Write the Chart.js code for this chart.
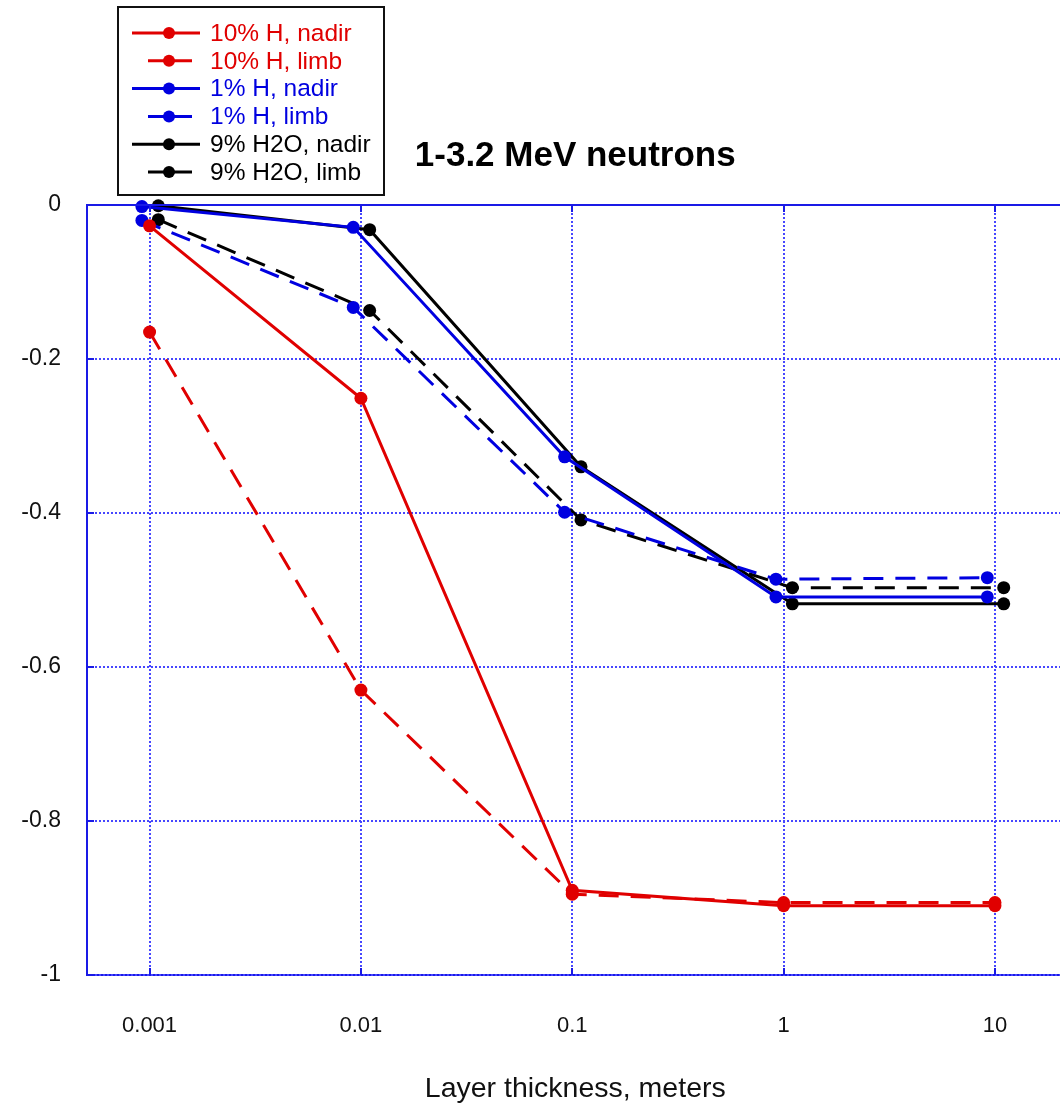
<!DOCTYPE html>
<html>
<head>
<meta charset="utf-8">
<title>1-3.2 MeV neutrons</title>
<script src="https://cdn.jsdelivr.net/npm/chart.js@4/dist/chart.umd.min.js"></script>
<style>
  html, body { margin: 0; padding: 0; background: #fff; overflow: hidden; }
  #wrap { width: 1060px; height: 1106px; overflow: hidden; }
  canvas { display: block; }
</style>
</head>
<body>
<div id="wrap"><canvas id="chart" width="1070" height="1106"></canvas></div>
<script>
// Layer thickness (m); the three families are nudged apart on the log axis
const xRed = [0.001, 0.01, 0.1, 1, 10];
const xBlue = [0.00092, 0.0092, 0.092, 0.92, 9.2];
const xBlack = [0.0011, 0.011, 0.11, 1.1, 11];

// Values
const redNadir = [-0.027, -0.251, -0.890, -0.910, -0.910];
const redLimb = [-0.165, -0.630, -0.895, -0.906, -0.906];
const blueNadir = [-0.002, -0.029, -0.327, -0.509, -0.509];
const blueLimb = [-0.020, -0.133, -0.399, -0.486, -0.484];
const blackNadir = [-0.001, -0.032, -0.340, -0.518, -0.518];
const blackLimb = [-0.019, -0.137, -0.409, -0.497, -0.497];

const seriesLabels = ['10% H, nadir', '10% H, limb', '1% H, nadir', '1% H, limb', '9% H2O, nadir', '9% H2O, limb'];

const xTickValues = [0.001, 0.01, 0.1, 1, 10];
const xTickLabels = ['0.001', '0.01', '0.1', '1', '10'];
const yTickLabels = ['-1', '-0.8', '-0.6', '-0.4', '-0.2', '0'];

const TITLE = '1-3.2 MeV neutrons';
const X_TITLE = 'Layer thickness, meters';

const RED = '#e00000';
const BLUE = '#0000e0';
const BLACK = '#000000';
const AXIS_BLUE = '#1a1ae6';
const GRID_BLUE = '#4646ff';
const DASH = [20, 12];
const FONT = '"Liberation Sans", Arial, Helvetica, sans-serif';

const toPoints = (xs, ys) => xs.map((x, i) => ({ x, y: ys[i] }));

const makeSet = (label, xs, ys, color, dashed) => ({
  label,
  data: toPoints(xs, ys),
  borderColor: color,
  backgroundColor: color,
  borderWidth: 3,
  borderDash: dashed ? DASH : [],
  pointRadius: 6.5,
  pointHoverRadius: 6.5,
  pointBorderWidth: 0,
  pointBackgroundColor: color,
  showLine: true,
  tension: 0,
  clip: false,
});

const datasets = [
  makeSet(seriesLabels[0], xRed, redNadir, RED, false),
  makeSet(seriesLabels[1], xRed, redLimb, RED, true),
  makeSet(seriesLabels[2], xBlue, blueNadir, BLUE, false),
  makeSet(seriesLabels[3], xBlue, blueLimb, BLUE, true),
  makeSet(seriesLabels[4], xBlack, blackNadir, BLACK, false),
  makeSet(seriesLabels[5], xBlack, blackLimb, BLACK, true),
];

// Dotted blue grid at the scale ticks, under the data
const dottedGrid = {
  id: 'dottedGrid',
  beforeDatasetsDraw(chart) {
    const { ctx, chartArea } = chart;
    const xs = chart.scales.x;
    const ys = chart.scales.y;
    ctx.save();
    ctx.strokeStyle = GRID_BLUE;
    ctx.lineWidth = 2;
    ctx.setLineDash([2, 2]);
    ctx.beginPath();
    xs.ticks.forEach(t => {
      const px = Math.round(xs.getPixelForValue(t.value));
      ctx.moveTo(px, chartArea.top);
      ctx.lineTo(px, chartArea.bottom);
    });
    ys.ticks.forEach(t => {
      const py = Math.round(ys.getPixelForValue(t.value));
      ctx.moveTo(chartArea.left, py);
      ctx.lineTo(chartArea.right, py);
    });
    ctx.stroke();
    ctx.restore();
  },
};

// Title, boxed legend, axis title, top frame line and inward tick marks
const decorations = {
  id: 'decorations',
  afterDraw(chart) {
    const { ctx, chartArea } = chart;
    const xs = chart.scales.x;
    const ys = chart.scales.y;
    const midX = (chartArea.left + chartArea.right) / 2;

    ctx.save();

    // frame top line
    ctx.strokeStyle = AXIS_BLUE;
    ctx.lineWidth = 2;
    ctx.beginPath();
    ctx.moveTo(chartArea.left, chartArea.top);
    ctx.lineTo(chartArea.right, chartArea.top);
    ctx.stroke();

    // short solid ticks pointing into the plot
    const tickLen = 7;
    ctx.beginPath();
    xs.ticks.forEach(t => {
      const px = Math.round(xs.getPixelForValue(t.value));
      ctx.moveTo(px, chartArea.bottom);
      ctx.lineTo(px, chartArea.bottom - tickLen);
      ctx.moveTo(px, chartArea.top);
      ctx.lineTo(px, chartArea.top + tickLen);
    });
    ys.ticks.forEach(t => {
      const py = Math.round(ys.getPixelForValue(t.value));
      ctx.moveTo(chartArea.left, py);
      ctx.lineTo(chartArea.left + tickLen, py);
    });
    ctx.stroke();

    // title
    ctx.fillStyle = '#000';
    ctx.font = 'bold 35px ' + FONT;
    ctx.textAlign = 'center';
    ctx.textBaseline = 'middle';
    ctx.fillText(TITLE, midX, 156);

    // x axis title
    ctx.fillStyle = '#111';
    ctx.font = '28.5px ' + FONT;
    ctx.fillText(X_TITLE, midX, 1089);

    // legend box
    const boxL = 118, boxT = 7, boxW = 266, boxH = 188;
    ctx.fillStyle = '#fff';
    ctx.fillRect(boxL, boxT, boxW, boxH);
    ctx.strokeStyle = '#111';
    ctx.lineWidth = 2;
    ctx.strokeRect(boxL, boxT, boxW, boxH);

    const rowTop = 33, rowStep = 27.8;
    chart.data.datasets.forEach((ds, i) => {
      const y = rowTop + i * rowStep;
      const dashed = ds.borderDash && ds.borderDash.length > 0;
      ctx.strokeStyle = ds.borderColor;
      ctx.lineWidth = 3;
      ctx.setLineDash(dashed ? [18, 8] : []);
      ctx.beginPath();
      ctx.moveTo(dashed ? 148 : 132, y);
      ctx.lineTo(200, y);
      ctx.stroke();
      ctx.setLineDash([]);
      ctx.fillStyle = ds.borderColor;
      ctx.beginPath();
      ctx.arc(169, y, 6, 0, Math.PI * 2);
      ctx.fill();
      ctx.font = '24.5px ' + FONT;
      ctx.textAlign = 'left';
      ctx.textBaseline = 'middle';
      ctx.fillText(ds.label, 210, y + 1);
    });

    ctx.restore();
  },
};

new Chart(document.getElementById('chart').getContext('2d'), {
  type: 'scatter',
  data: { datasets },
  plugins: [dottedGrid, decorations],
  options: {
    responsive: false,
    animation: false,
    events: [],
    layout: { padding: { top: 205, left: 0, right: 0, bottom: 0 } },
    plugins: {
      legend: { display: false },
      title: { display: false },
      tooltip: { enabled: false },
    },
    scales: {
      x: {
        type: 'logarithmic',
        min: 0.0005058,
        max: 21.1,
        afterBuildTicks: (scale) => {
          scale.ticks = xTickValues.map(v => ({ value: v }));
        },
        afterFit: (scale) => { scale.height = 131; },
        ticks: {
          autoSkip: false,
          maxRotation: 0,
          padding: 38,
          color: '#111',
          font: { family: FONT, size: 22 },
          callback: (value, index) => xTickLabels[index],
        },
        grid: { display: false, drawTicks: false },
        border: { color: AXIS_BLUE, width: 2 },
      },
      y: {
        type: 'linear',
        min: -1,
        max: 0,
        afterFit: (scale) => { scale.width = 87; },
        ticks: {
          stepSize: 0.2,
          padding: 26,
          color: '#111',
          font: { family: FONT, size: 23 },
          callback: (value, index) => yTickLabels[index],
        },
        grid: { display: false, drawTicks: false },
        border: { color: AXIS_BLUE, width: 2 },
      },
    },
  },
});
</script>
</body>
</html>
